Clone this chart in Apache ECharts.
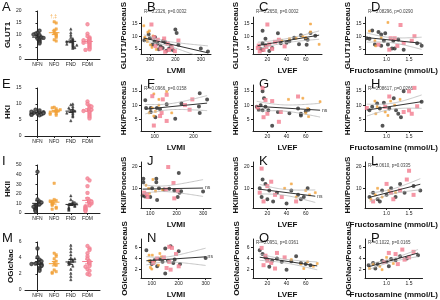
<!DOCTYPE html>
<html>
<head>
<meta charset="utf-8">
<script src="https://cdn.jsdelivr.net/npm/echarts@6/dist/echarts.min.js"></script>
<style>
  html, body { margin: 0; padding: 0; background: #fff; }
  #chart { width: 440px; height: 300px; }
</style>
</head>
<body>
<div id="chart"></div>
<script>
// ---------- data ----------
const groupNames = ['NFN', 'NFO', 'FND', 'FDM'];

// column 1: protein levels per group
const glut1NFN = [8.5, 9, 9.5, 10, 11, 11.8, 10.5, 8, 7.5, 7, 6.5, 9, 8.8, 10.2];
const glut1NFO = [15.5, 15, 12, 11, 10.5, 10, 9.5, 9, 8, 7.5, 12.5];
const glut1FND = [12.5, 11, 10, 9, 8.5, 8, 7.5, 7, 6.5, 6, 5.5, 5, 4.5, 4.8, 6.2, 7.2, 5.8];
const glut1FDM = [14.5, 10.5, 9.5, 9, 8.5, 8, 7.5, 7, 6.5, 6, 5.5, 5, 4.5, 4, 6.8, 7.8, 3.8];

const hkiNFN = [7, 7.5, 8, 6.5, 6.8, 7.2, 7.4, 6.9, 7.1, 8.2, 6.6, 7.6];
const hkiNFO = [9, 8.5, 8, 7.5, 7, 6.5, 8.8, 7.8, 7.2, 6.8, 8.2];
const hkiFND = [9.8, 10, 9.2, 8.5, 8, 7.5, 7, 6.5, 6, 4.8, 7.8, 8.8, 7.2];
const hkiFDM = [10.8, 10, 9.5, 9, 8.5, 8, 7.5, 7, 6.5, 6, 5.5, 8.2, 7.8, 9.2];

const hkiiNFN = [43, 14, 12, 10, 9, 8, 7, 6, 5, 4, 3, 2, 11, 6.5];
const hkiiNFO = [31, 14, 13, 12, 11, 10, 9, 8, 6, 5, 4, 12.5];
const hkiiFND = [18, 14, 12, 10, 9, 8.5, 8, 7, 6, 5, 4, 3, 11, 9.5];
const hkiiFDM = [36, 34, 28, 21, 15, 13, 11, 9, 8, 7, 6, 5, 4, 3, 2, 10, 12];

const oglNFN = [5.2, 4.1, 3.8, 3.5, 3.4, 3.3, 3.2, 3.1, 3.0, 2.8, 2.6, 2.4, 3.6, 3.25];
const oglNFO = [4.6, 4.4, 4.2, 3.9, 3.6, 3.3, 2.5, 2.3, 2.2, 2.1, 3.1];
const oglFND = [5.6, 5.2, 4.8, 4.4, 4.0, 3.8, 3.6, 3.5, 3.4, 3.2, 3.0, 2.6, 1.7, 1.3, 2.1, 3.9];
const oglFDM = [5.5, 5.2, 5.0, 4.6, 4.2, 3.9, 3.6, 3.4, 3.2, 3.0, 2.6, 2.4, 2.0, 1.9, 2.9];

// scatter panels: [x, y]
const bBlack = [[78,8.4],[95,10.8],[100,9.2],[118,7.9],[130,7.0],[142,6.0],[150,5.4],[160,7.6],[175,5.1],[190,4.6],[200,12.6],[205,11.3],[212,6.6],[182,6.1],[152,8.1],[328,4.0],[300,5.2],[110,6.6],[135,4.9],[165,4.3],[120,9.6]];
const bOrange = [[76,14.1],[92,11.6],[80,9.6],[90,7.9],[102,6.6],[108,5.6],[125,4.8],[112,10.1],[86,8.9],[98,12.1]];
const bPink = [[106,14.6],[116,9.6],[131,8.6],[156,9.1],[170,7.1],[186,5.6],[198,4.1],[142,5.1],[122,6.1],[160,3.9],[212,8.3],[175,4.6]];

const cBlack = [[15,12.1],[31,11.2],[65,11.3],[55,10.4],[60,9.0],[43,8.0],[40,7.4],[34,7.2],[53,6.8],[61,6.6],[18,9.0],[15,7.2],[13,5.0],[18,6.3],[25,5.4],[15,4.6],[70,10.2],[48,9.4],[22,4.2],[62,8.6]];
const cOrange = [[65,14.8],[65,11.7],[57,9.9],[43,9.0],[74,6.8],[60,9.5],[50,9.2],[35,8.4]];
const cPink = [[20,14.6],[32,8.6],[11,6.3],[10,5.4],[16,4.6],[22,6.8],[25,5.0],[28,7.8],[12,4.0],[38,6.0],[19,5.8]];

const dBlack = [[0.68,12.2],[0.82,11.7],[0.88,10.7],[0.97,11.2],[0.56,9.2],[0.62,9.0],[1.15,8.2],[1.26,8.7],[1.68,7.2],[1.78,6.2],[0.74,6.7],[0.88,6.2],[1.03,6.7],[1.12,5.2],[1.18,5.2],[1.38,4.7],[0.94,8.2]];
const dOrange = [[1.03,15.4],[0.62,12.0],[0.74,8.2],[0.88,9.4],[0.76,6.2]];
const dPink = [[1.31,14.4],[1.62,10.0],[1.09,9.2],[1.18,9.2],[1.38,7.3],[0.82,6.7],[1.06,4.7],[1.24,6.2],[1.56,8.2]];

const fBlack = [[76,11.7],[216,14.1],[235,12.0],[169,10.6],[131,10.3],[78,9.0],[90,9.0],[106,9.0],[90,7.6],[102,5.8],[214,9.5],[216,7.3],[153,5.3],[114,8.6]];
const fOrange = [[98,13.9],[131,14.7],[111,12.0],[94,9.0],[86,7.3],[102,7.8],[98,6.2],[144,7.3],[111,10.0]];
const fPink = [[94,13.1],[131,13.6],[121,12.0],[197,12.0],[178,10.0],[118,7.3],[114,6.2],[190,8.4],[131,4.5],[98,2.9]];

const gBlack = [[15,14.8],[16.5,12.4],[9,9.4],[13,10.0],[18,9.4],[15,8.2],[31,7.6],[43,7.2],[52,8.8],[55,6.4],[55,7.0],[63,8.4],[60,7.9],[25,2.8],[21,8.2],[11,8.4]];
const gOrange = [[42,12.0],[57,12.4],[75,11.2],[62,8.8],[60,7.2],[63,6.0]];
const gPink = [[15,16.0],[18,11.8],[25,11.4],[52,13.0],[10,9.2],[20,7.0],[34,7.6],[32,4.2],[16,5.8]];

const hBlack = [[1.38,14.8],[1.78,11.2],[1.16,12.4],[0.79,10.6],[0.94,10.8],[0.62,8.2],[1.06,8.8],[0.68,9.4],[0.85,8.8],[1.26,7.0],[1.32,5.8],[0.91,2.8],[1.21,8.2]];
const hOrange = [[1.30,12.0],[1.09,11.4],[0.74,11.4],[0.79,9.4],[1.18,10.0],[0.76,7.0],[0.97,7.6],[1.03,6.4]];
const hPink = [[1.62,16.0],[1.50,14.8],[1.06,13.0],[1.68,9.6],[0.97,9.4],[1.50,8.2],[1.56,7.0],[1.38,7.6],[0.56,9.0]];

const jBlack = [[208,17],[74,14.4],[123,14.4],[123,12.7],[74,12.7],[107,10],[133,10],[152,9.4],[172,9.8],[191,9],[211,8],[217,8.7],[71,6.7],[80,6.3],[100,6],[126,4.7],[204,6],[300,8.5]];
const jOrange = [[110,14],[84,11.4],[94,10],[146,9.4],[120,8.7],[97,7.7]];
const jPink = [[168,19.7],[188,12.4],[159,9.4],[204,8.7],[87,7.4],[90,6],[191,5.4],[77,8]];

const kBlack = [[15,14],[18,12],[12,10],[22,9],[30,8],[14,6],[20,5],[26,4],[45,9],[52,7],[58,6],[62,10],[55,5],[40,3]];
const kOrange = [[45,12],[60,9],[64,7],[70,8],[50,6],[38,10]];
const kPink = [[14,19],[20,11],[28,7],[16,4],[35,6],[24,13],[50,4],[12,8]];

const lBlack = [[0.62,6],[0.7,8],[0.8,5],[0.9,9],[1.0,7],[1.1,10],[1.2,6],[1.3,12],[1.4,8],[1.6,11],[1.75,9],[0.85,4]];
const lOrange = [[0.65,5],[0.75,7],[0.9,6],[1.05,9],[1.2,8],[0.8,10]];
const lPink = [[1.0,12],[1.15,5],[1.3,9],[1.45,14],[1.6,7],[1.5,18],[1.1,8],[0.7,4]];

const nBlack = [[80,5.5],[150,5.8],[170,6.2],[200,5.3],[95,3.5],[110,3.7],[130,3.9],[140,3.4],[160,3.6],[180,3.2],[205,3.0],[100,3.0],[120,2.6],[150,1.3],[300,4.1],[185,3.8]];
const nOrange = [[90,4.6],[102,4.6],[130,4.9],[135,4.3],[95,2.4],[100,2.1],[110,3.3],[125,2.8],[90,3.6]];
const nPink = [[165,6.1],[175,5.9],[190,4.8],[120,4.0],[145,4.2],[155,2.3],[170,2.0],[200,2.6],[105,3.2],[165,3.4]];

const oBlack = [[12,5.5],[15,4.8],[18,4.2],[20,3.8],[25,3.6],[30,4.0],[35,3.4],[45,3.5],[55,3.2],[60,3.0],[65,2.8],[22,2.5],[40,2.0],[50,4.4]];
const oOrange = [[45,3.8],[55,3.0],[62,3.4],[68,2.6],[72,3.1],[58,2.2]];
const oPink = [[14,5.9],[18,4.5],[24,3.2],[30,5.0],[16,2.8],[38,4.2],[28,2.2],[20,3.6]];

const pBlack = [[0.6,2.8],[0.7,3.2],[0.8,3.0],[0.9,3.6],[1.0,3.4],[1.1,3.9],[1.2,3.7],[1.3,4.4],[1.45,4.0],[1.7,4.6],[0.75,2.2],[1.05,2.6]];
const pOrange = [[0.62,2.2],[0.7,3.0],[0.85,2.6],[1.0,4.2],[1.15,3.1],[0.9,2.0]];
const pPink = [[1.05,5.0],[1.2,4.8],[1.35,5.6],[1.5,4.2],[1.6,5.2],[0.95,3.4],[1.25,3.0],[1.4,3.8]];

// axis ticks
const lvmiTicks = [100, 200, 300];
const lvefTicks = [20, 40, 60];
const fructTicks = [1.0, 1.5];
const rowYTicks = [[5, 10, 15], [5, 10, 15], [10, 20], [2, 4, 6]];
const groupYMax = [20, 15, 50, 6];
const groupYStep = [5, 5, 10, 2];

// ---------- styling / layout ----------
const BLACK = '#2a2a2a', ORANGE = '#f3a33a', PINK = '#f27c8e';
const groupColors = [BLACK, ORANGE, BLACK, PINK];
const groupSymbols = ['emptyCircle', 'rect', 'triangle', 'emptyCircle'];
const rowNames = ['GLUT1', 'HKI', 'HKII', 'OGlcNac'];
const rowTop = r => 11 + 77 * r;
const colLeft = [25, 141, 253, 365];
const colWidth = [75, 70, 69, 72];

const chart = echarts.init(document.getElementById('chart'));
const grids = [], xAxes = [], yAxes = [], series = [], graphics = [];

const axisBase = {
  axisLine: { show: true, lineStyle: { color: '#222', width: 1 } },
  axisTick: { show: true, length: 2, lineStyle: { color: '#222', width: 1 } },
  axisLabel: { fontSize: 5, color: '#222', margin: 3.5, fontFamily: 'Liberation Sans' },
  splitLine: { show: false },
  nameTextStyle: { fontSize: 8, fontWeight: 'bold', color: '#111', fontFamily: 'Liberation Sans' }
};

function avg(a) { return a.reduce((s, v) => s + v, 0) / a.length; }
function sem(a) {
  const m = avg(a);
  const sd = Math.sqrt(a.reduce((s, v) => s + (v - m) * (v - m), 0) / (a.length - 1));
  return sd / Math.sqrt(a.length);
}

// simple beeswarm offsets so points of close value spread sideways
function swarm(values, range) {
  const placed = [];
  return values.map(v => {
    const near = placed.filter(p => Math.abs(p - v) < range * 0.05).length;
    placed.push(v);
    const k = Math.ceil(near / 2) * (near % 2 ? 1 : -1);
    return Math.max(-0.36, Math.min(0.36, k * 0.12));
  });
}

function regression(points) {
  const n = points.length;
  const mx = avg(points.map(p => p[0])), my = avg(points.map(p => p[1]));
  let sxx = 0, sxy = 0;
  points.forEach(p => { sxx += (p[0] - mx) ** 2; sxy += (p[0] - mx) * (p[1] - my); });
  const slope = sxy / sxx, icpt = my - slope * mx;
  let sse = 0;
  points.forEach(p => { sse += (p[1] - icpt - slope * p[0]) ** 2; });
  const s = Math.sqrt(sse / (n - 2));
  const xs = points.map(p => p[0]);
  const x0 = Math.min(...xs), x1 = Math.max(...xs);
  const line = [[x0, icpt + slope * x0], [x1, icpt + slope * x1]];
  const upper = [], lower = [];
  for (let i = 0; i <= 24; i++) {
    const x = x0 + (x1 - x0) * i / 24;
    const h = 2.02 * s * Math.sqrt(1 / n + (x - mx) ** 2 / sxx);
    upper.push([x, icpt + slope * x + h]);
    lower.push([x, icpt + slope * x - h]);
  }
  return { line, upper, lower };
}

function addLetter(text, x, y) {
  graphics.push({ type: 'text', left: x, top: y,
    style: { text, fontSize: 13, fill: '#111', fontFamily: 'Liberation Sans' } });
}

// ---------- column 1: dot plots ----------
const groupRows = [
  [glut1NFN, glut1NFO, glut1FND, glut1FDM],
  [hkiNFN, hkiNFO, hkiFND, hkiFDM],
  [hkiiNFN, hkiiNFO, hkiiFND, hkiiFDM],
  [oglNFN, oglNFO, oglFND, oglFDM]
];
const rowLetters = [['A', 'B', 'C', 'D'], ['E', 'F', 'G', 'H'], ['I', 'J', 'K', 'L'], ['M', 'N', 'O', 'P']];

groupRows.forEach((groups, r) => {
  const gi = grids.length;
  grids.push({ left: colLeft[0], top: rowTop(r), width: colWidth[0], height: 48 });
  xAxes.push(Object.assign({}, axisBase, {
    gridIndex: gi, type: 'value', min: -0.75, max: 3.75,
    axisTick: Object.assign({}, axisBase.axisTick, { customValues: [0, 1, 2, 3] }),
    axisLabel: Object.assign({}, axisBase.axisLabel, { customValues: [0, 1, 2, 3], formatter: v => groupNames[v] || '' })
  }));
  yAxes.push(Object.assign({}, axisBase, {
    gridIndex: gi, type: 'value', min: 0, max: groupYMax[r], interval: groupYStep[r],
    name: rowNames[r], nameLocation: 'middle', nameGap: 10
  }));
  groups.forEach((vals, g) => {
    const off = swarm(vals, groupYMax[r]);
    series.push({
      type: 'scatter', xAxisIndex: gi, yAxisIndex: gi, symbol: groupSymbols[g], symbolSize: 2.4,
      itemStyle: { color: groupColors[g], borderColor: groupColors[g], borderWidth: 0.6 },
      data: vals.map((v, i) => [g + off[i], v]), silent: true
    });
    const m = avg(vals), e = sem(vals);
    series.push({
      type: 'custom', xAxisIndex: gi, yAxisIndex: gi, silent: true,
      data: [[g, m, m - e, m + e]],
      renderItem: (params, api) => {
        const c = api.coord([api.value(0), api.value(1)]);
        const lo = api.coord([api.value(0), api.value(2)]);
        const hi = api.coord([api.value(0), api.value(3)]);
        const w = api.size([1, 0])[0];
        const st = { stroke: groupColors[g], lineWidth: 1 };
        return { type: 'group', children: [
          { type: 'line', shape: { x1: c[0] - w * 0.32, y1: c[1], x2: c[0] + w * 0.32, y2: c[1] }, style: st },
          { type: 'line', shape: { x1: c[0], y1: lo[1], x2: c[0], y2: hi[1] }, style: st },
          { type: 'line', shape: { x1: c[0] - w * 0.14, y1: lo[1], x2: c[0] + w * 0.14, y2: lo[1] }, style: st },
          { type: 'line', shape: { x1: c[0] - w * 0.14, y1: hi[1], x2: c[0] + w * 0.14, y2: hi[1] }, style: st }
        ] };
      }
    });
  });
  addLetter(rowLetters[r][0], 2, 77 * r + 1);
});
graphics.push({ type: 'text', left: 50, top: 14, style: { text: '†,‡', fontSize: 5, fill: ORANGE } });

// ---------- scatter panels ----------
const scatterPanels = [
  { r: 0, c: 1, sets: [bBlack, bOrange, bPink], x: [65, 340], note: 'R²=0.2326, p=0.0032' },
  { r: 0, c: 2, sets: [cBlack, cOrange, cPink], x: [5, 77], note: 'R²=0.2650, p=0.0002' },
  { r: 0, c: 3, sets: [dBlack, dOrange, dPink], x: [0.52, 1.8], note: 'R²=0.08296, p=0.0290' },
  { r: 1, c: 1, sets: [fBlack, fOrange, fPink], x: [65, 245], note: 'R²=0.0966, p=0.0158' },
  { r: 1, c: 2, sets: [gBlack, gOrange, gPink], x: [5, 77], note: '' },
  { r: 1, c: 3, sets: [hBlack, hOrange, hPink], x: [0.52, 1.8], note: 'R²=0.08617, p=0.0266' },
  { r: 2, c: 1, sets: [jBlack, jOrange, jPink], x: [65, 330], note: '' },
  { r: 2, c: 2, sets: [kBlack, kOrange, kPink], x: [5, 77], note: '' },
  { r: 2, c: 3, sets: [lBlack, lOrange, lPink], x: [0.52, 1.8], note: 'R²=0.0610, p=0.0335' },
  { r: 3, c: 1, sets: [nBlack, nOrange, nPink], x: [60, 320], note: '' },
  { r: 3, c: 2, sets: [oBlack, oOrange, oPink], x: [5, 77], note: 'R²=0.0951, p=0.0361' },
  { r: 3, c: 3, sets: [pBlack, pOrange, pPink], x: [0.52, 1.8], note: 'R²=0.1022, p=0.0165' }
];
const rowYRange = [[3, 17.5], [1, 17], [1, 22], [0.5, 7.5]];
const colXName = [null, 'LVMI', 'LVEF', 'Fructosamine (mmol/L)'];
const colXTicks = [null, lvmiTicks, lvefTicks, fructTicks];
const setColors = [BLACK, ORANGE, PINK];
const setSymbols = ['emptyCircle', 'rect', 'emptyRect'];

scatterPanels.forEach(p => {
  const gi = grids.length;
  const top = 8 + 77 * p.r;
  grids.push({ left: colLeft[p.c], top, width: colWidth[p.c], height: 46 });
  xAxes.push(Object.assign({}, axisBase, {
    gridIndex: gi, type: 'value', min: p.x[0], max: p.x[1],
    axisTick: Object.assign({}, axisBase.axisTick, { customValues: colXTicks[p.c] }),
    axisLabel: Object.assign({}, axisBase.axisLabel, { customValues: colXTicks[p.c],
      formatter: v => (p.c === 3 ? v.toFixed(1) : String(v)) }),
    name: colXName[p.c], nameLocation: 'middle', nameGap: 13
  }));
  yAxes.push(Object.assign({}, axisBase, {
    gridIndex: gi, type: 'value', min: rowYRange[p.r][0], max: rowYRange[p.r][1],
    axisTick: Object.assign({}, axisBase.axisTick, { customValues: rowYTicks[p.r] }),
    axisLabel: Object.assign({}, axisBase.axisLabel, { customValues: rowYTicks[p.r] }),
    name: rowNames[p.r] + '/PonceauS', nameLocation: 'middle', nameGap: 12
  }));
  const all = [];
  p.sets.forEach((set, k) => {
    all.push(...set);
    series.push({
      type: 'scatter', xAxisIndex: gi, yAxisIndex: gi, symbol: setSymbols[k], symbolSize: 2,
      itemStyle: { color: setColors[k], borderColor: setColors[k], borderWidth: 0.6 },
      data: set, silent: true
    });
  });
  const fit = regression(all);
  [fit.upper, fit.lower].forEach(band => series.push({
    type: 'line', xAxisIndex: gi, yAxisIndex: gi, data: band, smooth: true, symbol: 'none', silent: true,
    lineStyle: { color: '#b8b8b8', width: 0.8 }
  }));
  series.push({
    type: 'line', xAxisIndex: gi, yAxisIndex: gi, data: fit.line, symbol: 'none', silent: true,
    lineStyle: { color: '#333', width: 1 },
    endLabel: { show: !p.note, formatter: 'ns', fontSize: 5, color: '#333', distance: 2 }
  });
  if (p.note) {
    graphics.push({ type: 'text', left: colLeft[p.c] + 3, top: top + 1,
      style: { text: p.note, fontSize: 4.5, fill: '#444', fontFamily: 'Liberation Sans' } });
  }
  addLetter(rowLetters[p.r][p.c], colLeft[p.c] + 6, 77 * p.r + 1);
});

chart.setOption({
  animation: false,
  backgroundColor: '#fff',
  grid: grids,
  xAxis: xAxes,
  yAxis: yAxes,
  series,
  graphic: { elements: graphics }
});
</script>
</body>
</html>
